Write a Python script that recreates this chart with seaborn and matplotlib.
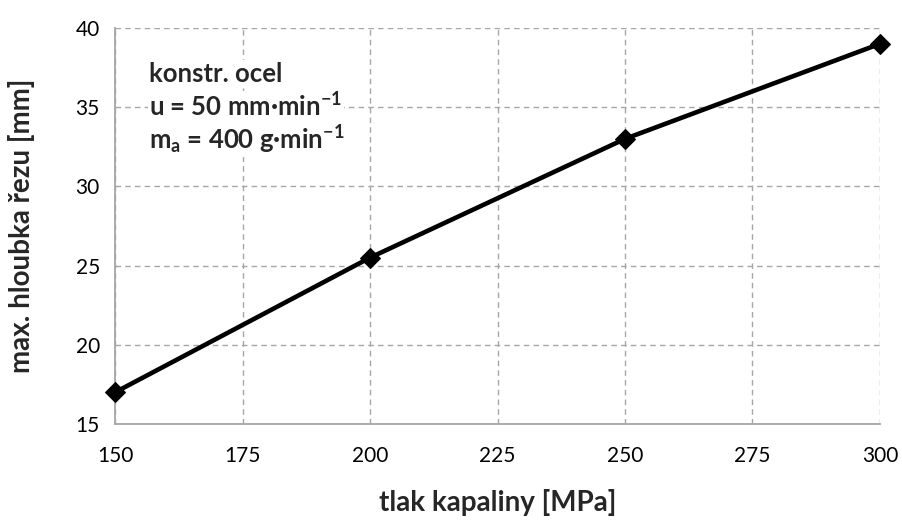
import matplotlib
matplotlib.use("Agg")
import matplotlib.pyplot as plt
import seaborn as sns
import pandas as pd

pressure = [150, 200, 250, 300]
depth = [17.0, 25.5, 33.0, 39.0]
x_ticks = [150, 175, 200, 225, 250, 275, 300]
y_ticks = [15, 20, 25, 30, 35, 40]
x_label = "tlak kapaliny [MPa]"
y_label = "max. hloubka řezu [mm]"
note_lines = ["konstr. ocel", r"u = 50 mm·min$^{-1}$", r"m$_{a}$ = 400 g·min$^{-1}$"]

sns.set_theme(style="white")
plt.rcParams['font.family'] = ['Lato', 'DejaVu Sans']
plt.rcParams['mathtext.fontset'] = 'custom'
plt.rcParams['mathtext.rm'] = 'Lato:bold'
plt.rcParams['mathtext.it'] = 'Lato:bold'
plt.rcParams['mathtext.bf'] = 'Lato:bold'
plt.rcParams['mathtext.default'] = 'rm'

df = pd.DataFrame({"p": pressure, "d": depth})

fig = plt.figure(figsize=(9.03, 5.31), dpi=100)
ax = fig.add_axes([0.1274, 0.2015, 0.8471, 0.7458])

grid_c = "#a6a6a6"
for xt in x_ticks:
    ax.axvline(xt, color=grid_c, lw=1.0, ls=(0, (4, 3)), zorder=1)
for yt in y_ticks:
    ax.axhline(yt, color=grid_c, lw=1.0, ls=(0, (4, 3)), zorder=1)

sns.lineplot(data=df, x="p", y="d", ax=ax, color="black", lw=3.3,
             marker="D", markersize=10, markeredgecolor="black", zorder=5, clip_on=False)

ax.set_xlim(150, 300)
ax.set_ylim(15, 40)
ax.set_xticks(x_ticks)
ax.set_yticks(y_ticks)
ax.tick_params(axis='both', labelsize=15, colors=grid_c, labelcolor="black")
ax.tick_params(axis='x', direction='inout', length=10, width=1, pad=11)
ax.tick_params(axis='y', direction='out', length=5, width=1, pad=6)
for s in ['top', 'right']:
    ax.spines[s].set_visible(False)
for s in ['left', 'bottom']:
    ax.spines[s].set_color(grid_c)
    ax.spines[s].set_linewidth(1.3)

ax.set_xlabel(x_label, fontsize=20, fontweight='bold')
ax.set_ylabel(y_label, fontsize=20, fontweight='bold')
ax.xaxis.set_label_coords(0.5, -0.165)
ax.yaxis.set_label_coords(-0.105, 0.5)

for i, t in enumerate(note_lines):
    ax.text(0.045, 0.885 - i * 0.083, t, transform=ax.transAxes, fontsize=18.5,
            fontweight='bold', va='center', ha='left', zorder=6,
            bbox=dict(facecolor='white', edgecolor='none', pad=1))

fig.savefig("out.png", dpi=100)
